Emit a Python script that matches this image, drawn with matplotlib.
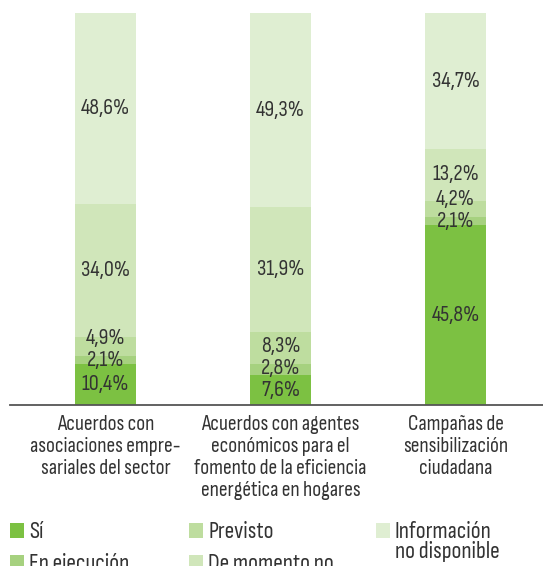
import matplotlib
matplotlib.use("Agg")
import matplotlib.pyplot as plt
from matplotlib.patches import Rectangle
from matplotlib import font_manager

names = set(f.name for f in font_manager.fontManager.ttflist)
pref = ["Sofia Sans Condensed", "PT Sans Narrow", "Roboto Condensed"]
main = next((f for f in pref if f in names), "Liberation Sans")
plt.rcParams['font.family'] = [main, "DejaVu Sans"]
plt.rcParams['font.weight'] = 300

categories = ["Acuerdos con\nasociaciones empre-\nsariales del sector",
              "Acuerdos con agentes\neconómicos para el\nfomento de la eficiencia\nenergética en hogares",
              "Campañas de\nsensibilización\nciudadana"]
series = ["Sí", "En ejecución", "Previsto", "De momento no", "Información\nno disponible"]
si = [10.4, 7.6, 45.8]
en_ejecucion = [2.1, 2.8, 2.1]
previsto = [4.9, 8.3, 4.2]
de_momento_no = [34.0, 31.9, 13.2]
info_no_disp = [48.6, 49.3, 34.7]
values = [si, en_ejecucion, previsto, de_momento_no, info_no_disp]
colors = ["#7cc142", "#a6d17f", "#bedd9f", "#d0e6ba", "#dfeed2"]
txt_color = "#333333"
FS_BAR, FS_CAT, FS_LEG = 16, 15.5, 17

W, H = 543, 566
fig = plt.figure(figsize=(W/100, H/100), dpi=100)
ax = fig.add_axes([10/W, (H-405)/H, 533/W, 392/H])

x = list(range(len(categories)))
bw = 61/175
bottoms = [0.0]*len(x)
centers = [[0]*len(series) for _ in x]
for s, (vals, c) in enumerate(zip(values, colors)):
    ax.bar(x, vals, bw, bottom=bottoms, color=c, edgecolor='none', zorder=2)
    for i in x:
        centers[i][s] = bottoms[i] + vals[i]/2
    bottoms = [b+v for b, v in zip(bottoms, vals)]

minsep = 22/392*100
for i in x:
    ys = centers[i][:]
    for s in range(1, len(ys)):
        if ys[s] - ys[s-1] < minsep:
            ys[s] = ys[s-1] + minsep
    for s in range(len(series)):
        ax.text(i, ys[s], f"{values[s][i]:.1f}%".replace('.', ','),
                ha='center', va='center', fontsize=FS_BAR, color=txt_color, zorder=3)

ax.set_xlim(-95.5/175, 2 + 87.5/175)
ax.set_ylim(0, 100)
for sp in ['top', 'right', 'left']:
    ax.spines[sp].set_visible(False)
ax.spines['bottom'].set_color('#555555')
ax.spines['bottom'].set_linewidth(1.3)
ax.set_yticks([])
ax.set_xticks([])
for i, lab in enumerate(categories):
    ax.text(i, -2.6, lab, ha='center', va='top', fontsize=FS_CAT, color=txt_color,
            linespacing=1.2)

# legend (manual)
col_x = [10, 189, 376]
row_y = [523, 555]
pos = [(0, 0), (0, 1), (1, 0), (1, 1), (2, 0)]
for (cx, ry), name, c in zip([(col_x[a], row_y[b]) for a, b in pos], series, colors):
    fig.add_artist(Rectangle((cx/W, 1-(ry+15)/H), 14/W, 15/H, transform=fig.transFigure,
                             facecolor=c, edgecolor='none'))
    for k, line in enumerate(name.split("\n")):
        fig.text((cx+19)/W, 1-(ry+15+k*20)/H, line, ha='left', va='baseline',
                 fontsize=FS_LEG, color=txt_color)

fig.savefig("out.png", dpi=100)
